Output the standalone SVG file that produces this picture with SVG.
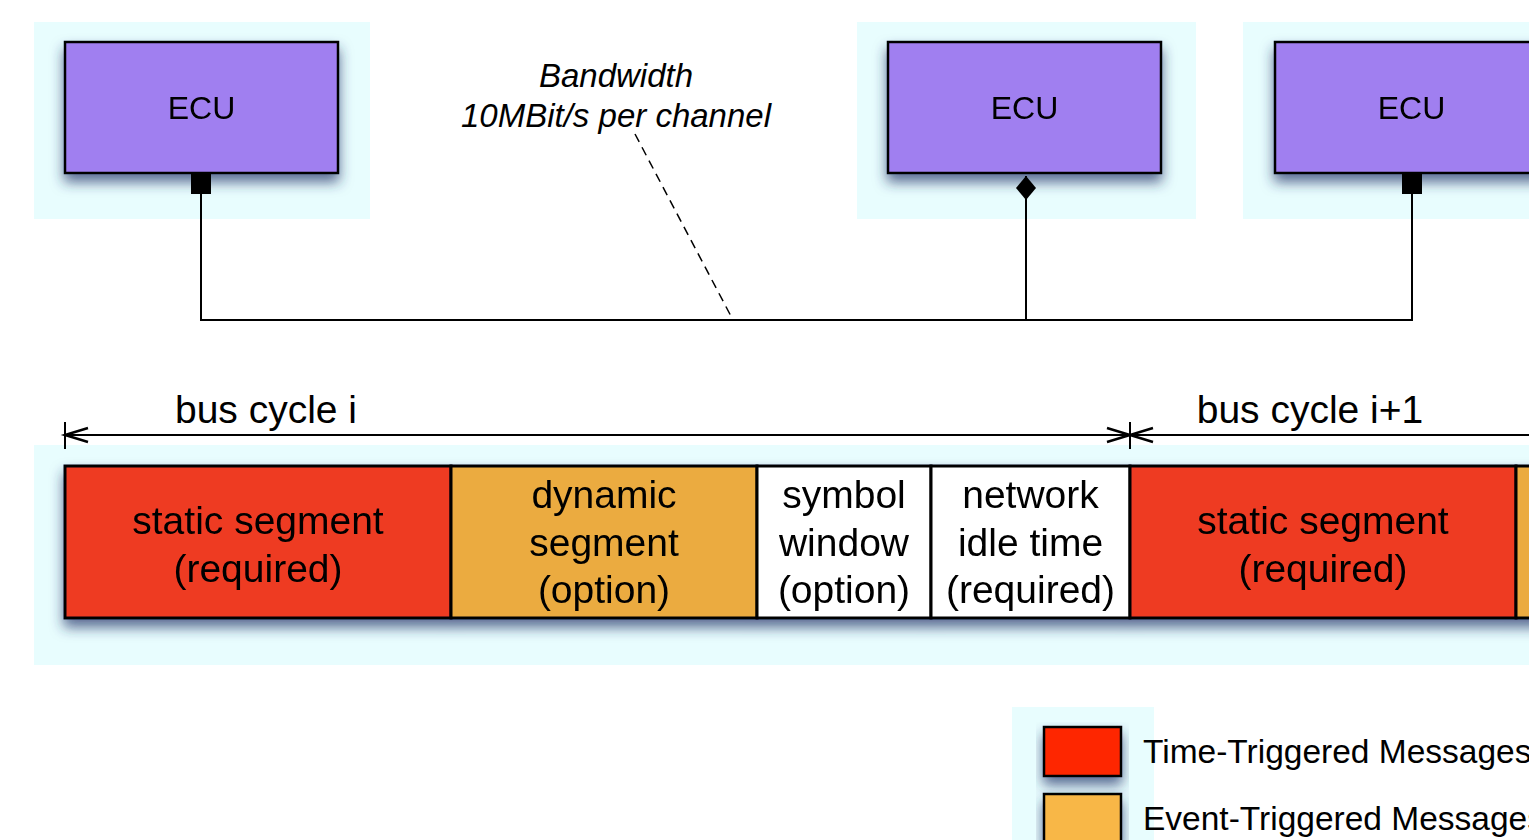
<svg xmlns="http://www.w3.org/2000/svg" width="1529" height="840" viewBox="0 0 1529 840">
<defs>
<style>
.panel{fill:#e8fdfe;stroke:none}
.ecu{fill:#a07ff0;stroke:#000;stroke-width:2.5}
.seg{stroke:#000;stroke-width:3}
.red{fill:#ee3b24}
.org{fill:#ebab41}
.wht{fill:#ffffff}
.t{font-family:"Liberation Sans",Arial,Helvetica,sans-serif;fill:#000;text-anchor:middle}
.ecut{font-size:32px}
.segt{font-size:39px}
.bw{font-size:33px;font-style:italic}
.lg{font-size:33.5px;text-anchor:start}
.wire{fill:none;stroke:#000;stroke-width:2}
.dash{fill:none;stroke:#000;stroke-width:1.5;stroke-dasharray:9 6}
.dim{fill:none;stroke:#000;stroke-width:2}
</style>
<filter id="sh" x="-10%" y="-25%" width="120%" height="180%">
<feGaussianBlur in="SourceAlpha" stdDeviation="6.5"/>
<feOffset dy="8" result="b"/>
<feFlood flood-color="#24346a" flood-opacity="0.72"/>
<feComposite in2="b" operator="in"/>
<feMerge><feMergeNode/><feMergeNode in="SourceGraphic"/></feMerge>
</filter>
<marker id="sq" markerUnits="userSpaceOnUse" viewBox="0 0 20 20" markerWidth="20" markerHeight="20" refX="0" refY="10" orient="auto">
<rect x="0" y="0" width="20" height="20" fill="#000"/>
</marker>
<marker id="dia" markerUnits="userSpaceOnUse" viewBox="0 0 24 20" markerWidth="24" markerHeight="20" refX="0" refY="10" orient="auto">
<path d="M0,10 L12,0 L24,10 L12,20 Z" fill="#000"/>
</marker>
<marker id="open" markerUnits="userSpaceOnUse" viewBox="-1 -9 26 18" markerWidth="26" markerHeight="18" refX="0" refY="0" orient="auto-start-reverse" overflow="visible">
<path d="M-23,-7 L0,0 L-23,7" fill="none" stroke="#000" stroke-width="2.5"/>
</marker>
</defs>

<rect width="1529" height="840" fill="#ffffff"/>

<!-- background panels -->
<rect class="panel" x="34" y="22" width="336" height="197"/>
<rect class="panel" x="857" y="22" width="339" height="197"/>
<rect class="panel" x="1243" y="22" width="300" height="197"/>
<rect class="panel" x="34" y="445" width="1500" height="220"/>
<rect class="panel" x="1012" y="707" width="142" height="140"/>

<g id="ecu1" filter="url(#sh)">
<rect class="ecu" x="65" y="42" width="273" height="131"/>
<text class="t ecut" x="201.5" y="119">ECU</text>
</g>
<g id="ecu2" filter="url(#sh)">
<rect class="ecu" x="888" y="42" width="273" height="131"/>
<text class="t ecut" x="1024.5" y="119">ECU</text>
</g>
<g id="ecu3" filter="url(#sh)">
<rect class="ecu" x="1275" y="42" width="273" height="131"/>
<text class="t ecut" x="1411.5" y="119">ECU</text>
</g>

<g id="bandwidth-label">
<text class="t bw" x="616" y="87">Bandwidth</text>
<text class="t bw" x="616" y="127">10MBit/s per channel</text>
</g>

<g id="connectors">
<path class="wire" d="M201,174 V320" marker-start="url(#sq)"/>
<path class="wire" d="M1026,176 V320" marker-start="url(#dia)"/>
<path class="wire" d="M1412,174 V320" marker-start="url(#sq)"/>
<path class="wire" d="M200,320 H1413"/>
<path class="dash" d="M635,134 L733,320"/>
<path class="dim" d="M65,422 V449"/>
<path class="dim" d="M1130,422 V449"/>
<path class="dim" d="M65,435 H1130" marker-start="url(#open)" marker-end="url(#open)"/>
<path class="dim" d="M1130,435 H1540" marker-start="url(#open)"/>
</g>

<g id="cycle-labels">
<text class="t segt" x="266" y="423">bus cycle i</text>
<text class="t segt" x="1310" y="423">bus cycle i+1</text>
</g>

<g id="bus-cycle" filter="url(#sh)">
<g id="seg-static-1">
<rect class="seg red" x="65" y="466" width="386" height="152"/>
<text class="t segt" x="258" y="534">static segment</text>
<text class="t segt" x="258" y="582">(required)</text>
</g>
<g id="seg-dynamic">
<rect class="seg org" x="451" y="466" width="306" height="152"/>
<text class="t segt" x="604" y="508">dynamic</text>
<text class="t segt" x="604" y="555.5">segment</text>
<text class="t segt" x="604" y="603">(option)</text>
</g>
<g id="seg-symbol">
<rect class="seg wht" x="757" y="466" width="174" height="152"/>
<text class="t segt" x="844" y="508">symbol</text>
<text class="t segt" x="844" y="555.5">window</text>
<text class="t segt" x="844" y="603">(option)</text>
</g>
<g id="seg-nit">
<rect class="seg wht" x="931" y="466" width="199" height="152"/>
<text class="t segt" x="1030.5" y="508">network</text>
<text class="t segt" x="1030.5" y="555.5">idle time</text>
<text class="t segt" x="1030.5" y="603">(required)</text>
</g>
<g id="seg-static-2">
<rect class="seg red" x="1130" y="466" width="386" height="152"/>
<text class="t segt" x="1323" y="534">static segment</text>
<text class="t segt" x="1323" y="582">(required)</text>
</g>
<g id="seg-dynamic-2">
<rect class="seg org" x="1516" y="466" width="306" height="152"/>
</g>
</g>

<g id="legend-tt">
<rect x="1044" y="727" width="77" height="49" fill="#fe2600" stroke="#000" stroke-width="2.5" filter="url(#sh)"/>
<text class="t lg" x="1143" y="763">Time-Triggered Messages</text>
</g>
<g id="legend-et">
<rect x="1044" y="794" width="77" height="49" fill="#f8b746" stroke="#000" stroke-width="2.5" filter="url(#sh)"/>
<text class="t lg" x="1143" y="830">Event-Triggered Messages</text>
</g>
</svg>
